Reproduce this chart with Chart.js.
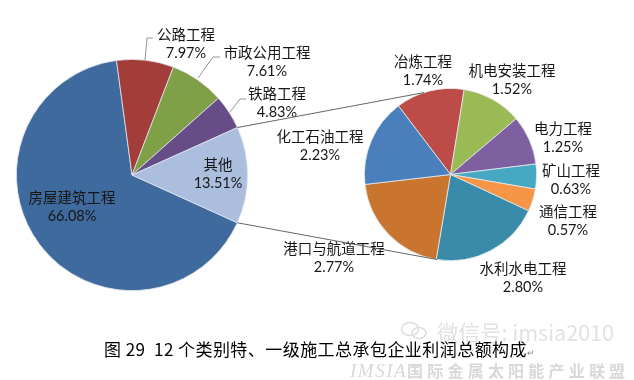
<!DOCTYPE html>
<html lang="zh">
<head>
    <meta charset="UTF-8">
    <title>12个类别特、一级施工总承包企业利润总额构成</title>
    <script src="https://cdn.jsdelivr.net/npm/chart.js"></script>
    <style>
        html, body { margin: 0; padding: 0; background: #fff; }
        #page { position: relative; width: 634px; height: 380px; overflow: hidden; }
        canvas { position: absolute; left: 0; top: 0; }
        .caption { position: absolute; left: 104px; top: 336px; font: 400 17px "Noto Sans CJK SC", sans-serif; letter-spacing: 0.45px; color: #000; white-space: nowrap; }
        .caption span { font-size: 9px; color: #888; }
        .wechat { position: absolute; left: 437px; top: 316px; font: 21.5px "Noto Sans CJK SC", sans-serif; color: #e2e2e2; white-space: nowrap; }
        .wechat-icon { position: absolute; left: 400px; top: 321px; }
        .brand { position: absolute; left: 350px; top: 358px; font: bold 16px "Noto Sans CJK SC", sans-serif; letter-spacing: 4.2px; color: #d8d8d8; white-space: nowrap; }
        .brand i { font: italic 19px "Liberation Serif", serif; letter-spacing: 1.5px; }
    </style>
</head>
<body>
<div id="page">
    <canvas id="mainPie" width="634" height="380"></canvas>
    <canvas id="subPie" width="634" height="380"></canvas>
    <svg class="wechat-icon" width="28" height="20" fill="none" stroke="#dcdcdc" stroke-width="1.4">
        <ellipse cx="10" cy="8" rx="8.5" ry="6.5"/>
        <ellipse cx="19" cy="12" rx="7" ry="5.5"/>
    </svg>
    <div class="wechat">微信号: imsia2010</div>
    <div class="caption">图 29&nbsp; 12 个类别特、一级施工总承包企业利润总额构成<span>↵</span></div>
    <div class="brand"><i>IMSIA</i>国际金属太阳能产业联盟</div>
</div>
<script>
    // 主饼图数据
    const mainCategories = ['房屋建筑工程', '公路工程', '市政公用工程', '铁路工程', '其他'];
    const mainValues = [66.08, 7.97, 7.61, 4.83, 13.51];
    const mainColors = ['#3f6a9e', '#a33d3a', '#80a047', '#664d88', '#abbedd'];

    // 子饼图数据（其他 13.51% 的拆分）
    const subCategories = ['冶炼工程', '机电安装工程', '电力工程', '矿山工程', '通信工程', '水利水电工程', '港口与航道工程', '化工石油工程'];
    const subValues = [1.74, 1.52, 1.25, 0.63, 0.57, 2.80, 2.77, 2.23];
    const subColors = ['#bd4c49', '#99ba55', '#7e60a1', '#46a9c3', '#f69546', '#3a8aa9', '#c9752f', '#4a7fbc'];

    // 标签位置 [名称中心x, 名称中心y]，数值在其下方
    const mainLabelPos = [[72, 197], [186, 34], [267, 52], [277, 93], [218, 164]];
    const subLabelPos = [[423, 61], [512, 70], [563, 128], [571, 170], [568, 211], [523, 268], [334, 248], [320, 136]];

    // 引导线折点（公路、市政、铁路）
    const leaderLines = [
        [[145, 60], [147, 38], [153, 38]],
        [[198, 78], [213, 57], [220, 57]],
        [[230, 112], [240, 99], [246, 99]]
    ];

    const nameFont = '14.5px "Noto Sans CJK SC", sans-serif';
    const valueFont = '14.5px Lato, sans-serif';

    // 写标签：名称一行，百分比一行
    function labelsPlugin(categories, values, positions) {
        return {
            id: 'sliceLabels',
            afterDraw(chart) {
                const ctx = chart.ctx;
                ctx.save();
                ctx.fillStyle = '#161616';
                ctx.textAlign = 'center';
                ctx.textBaseline = 'middle';
                categories.forEach((name, i) => {
                    ctx.font = nameFont;
                    ctx.fillText(name, positions[i][0], positions[i][1]);
                    ctx.font = valueFont;
                    ctx.fillText(values[i].toFixed(2) + '%', positions[i][0], positions[i][1] + 19);
                });
                ctx.restore();
            }
        };
    }

    function pieOptions(rotation, box) {
        return {
            responsive: false,
            animation: false,
            rotation: rotation,
            layout: { padding: { left: box[0], top: box[1], right: 634 - box[2], bottom: 380 - box[3] } },
            plugins: { legend: { display: false }, tooltip: { enabled: false } }
        };
    }

    const mainChart = new Chart(document.getElementById('mainPie').getContext('2d'), {
        type: 'pie',
        data: {
            labels: mainCategories,
            datasets: [{ data: mainValues, backgroundColor: mainColors, borderColor: '#dfe6ee', borderWidth: 0.8 }]
        },
        options: pieOptions(-245.6, [16, 59, 248, 291]),
        plugins: [labelsPlugin(mainCategories, mainValues, mainLabelPos)]
    });

    // 连接线：从“其他”扇区两端连到子饼图上下
    function edgePoint(chart, angleDeg) {
        const arc = chart.getDatasetMeta(0).data[0];
        const a = (angleDeg - 90) * Math.PI / 180;
        return [arc.x + arc.outerRadius * Math.cos(a), arc.y + arc.outerRadius * Math.sin(a)];
    }

    const connectorPlugin = {
        id: 'connectors',
        afterDraw(chart) {
            const ctx = chart.ctx;
            const other = mainChart.getDatasetMeta(0).data[4];
            const toDeg = r => r * 180 / Math.PI + 90;
            const pairs = [
                [edgePoint(mainChart, toDeg(other.startAngle)), edgePoint(chart, -18)],
                [edgePoint(mainChart, toDeg(other.endAngle)), edgePoint(chart, 189)]
            ];
            ctx.save();
            ctx.strokeStyle = '#555';
            ctx.lineWidth = 0.9;
            pairs.forEach(p => {
                ctx.beginPath();
                ctx.moveTo(p[0][0], p[0][1]);
                ctx.lineTo(p[1][0], p[1][1]);
                ctx.stroke();
            });
            ctx.strokeStyle = '#8a8a8a';
            leaderLines.forEach(line => {
                ctx.beginPath();
                line.forEach((pt, i) => i ? ctx.lineTo(pt[0], pt[1]) : ctx.moveTo(pt[0], pt[1]));
                ctx.stroke();
            });
            ctx.restore();
        }
    };

    new Chart(document.getElementById('subPie').getContext('2d'), {
        type: 'pie',
        data: {
            labels: subCategories,
            datasets: [{ data: subValues, backgroundColor: subColors, borderColor: '#e6ebf0', borderWidth: 0.8 }]
        },
        options: pieOptions(-37.2, [364, 88, 537, 261]),
        plugins: [labelsPlugin(subCategories, subValues, subLabelPos), connectorPlugin]
    });
</script>
</body>
</html>
